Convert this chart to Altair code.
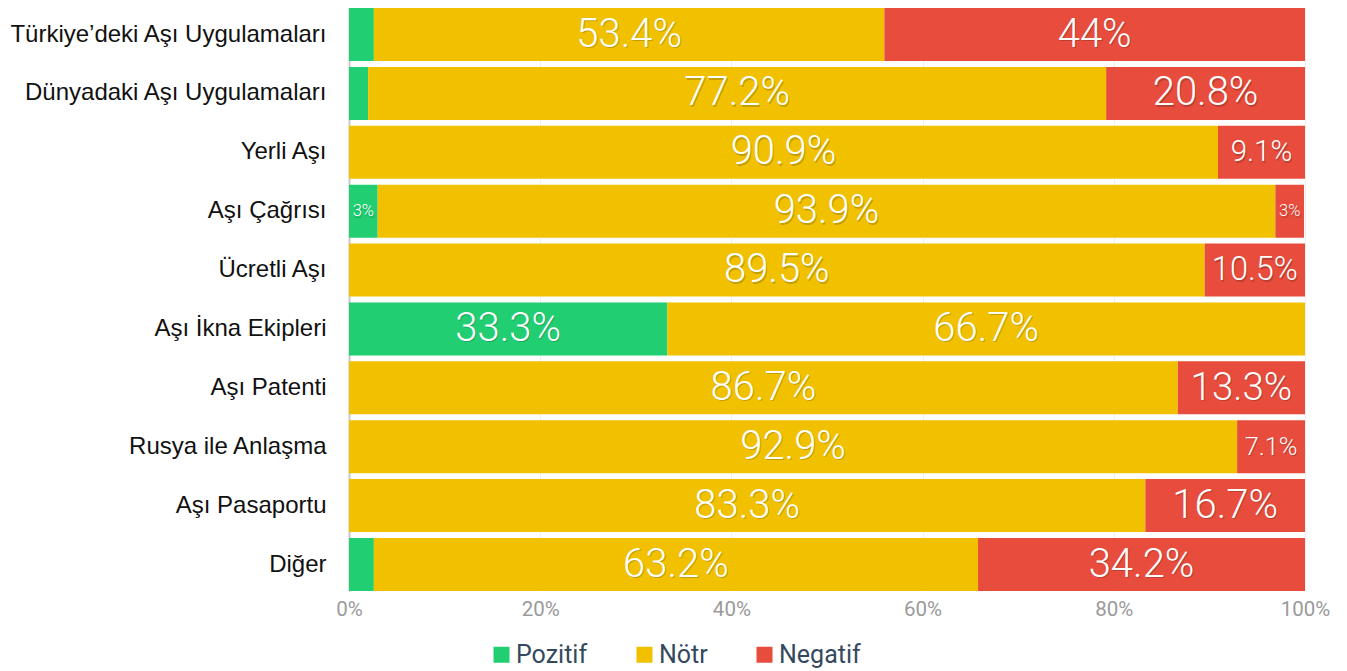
import altair as alt
import pandas as pd

categories = [
    "Türkiye’deki Aşı Uygulamaları",
    "Dünyadaki Aşı Uygulamaları",
    "Yerli Aşı",
    "Aşı Çağrısı",
    "Ücretli Aşı",
    "Aşı İkna Ekipleri",
    "Aşı Patenti",
    "Rusya ile Anlaşma",
    "Aşı Pasaportu",
    "Diğer",
]
pozitif = [2.6, 2.0, 0, 3, 0, 33.3, 0, 0, 0, 2.6]
notr = [53.4, 77.2, 90.9, 93.9, 89.5, 66.7, 86.7, 92.9, 83.3, 63.2]
negatif = [44, 20.8, 9.1, 3, 10.5, 0, 13.3, 7.1, 16.7, 34.2]
series = ["Pozitif", "Nötr", "Negatif"]
colors = ["#22CE72", "#F1C100", "#E74C3C"]
x_ticks = [0, 20, 40, 60, 80, 100]

rows = []
for i, c in enumerate(categories):
    for k, (s, vals) in enumerate(zip(series, [pozitif, notr, negatif])):
        rows.append({"category": c, "series": s, "value": vals[i], "order": k})
df = pd.DataFrame(rows)

base = alt.Chart(df).transform_stack(
    stack="value", groupby=["category"], as_=["x0", "x1"],
    sort=[alt.SortField("order", order="ascending")],
)

y_enc = alt.Y(
    "category:N", sort=categories, title=None,
    scale=alt.Scale(paddingInner=0.1, paddingOuter=0.0),
    axis=alt.Axis(
        labelFont="Liberation Sans", labelFontSize=24, labelColor="#111111",
        ticks=False, labelPadding=23, domainColor="#c8c8c8", domainWidth=2,
        minExtent=341, maxExtent=341, labelLimit=400,
    ),
)

bars = base.mark_bar().encode(
    x=alt.X(
        "x0:Q", title=None,
        scale=alt.Scale(domain=[0, 100], nice=False, zero=True),
        axis=alt.Axis(
            values=x_ticks, labelExpr="datum.value + '%'",
            labelFont="Roboto", labelFontSize=20.5, labelColor="#9a9a9a",
            labelPadding=8, labelFlush=False, domain=False, ticks=False,
            gridColor="#efefef", gridWidth=1,
        ),
    ),
    x2="x1:Q",
    y=y_enc,
    color=alt.Color(
        "series:N", sort=series,
        scale=alt.Scale(domain=series, range=colors),
        legend=alt.Legend(
            title=None, orient="none", direction="horizontal",
            legendX=140, legendY=634,
            symbolType="square", symbolSize=256, symbolStrokeWidth=0,
            labelFont="Roboto", labelFontSize=25, labelColor="#34495e",
            columnPadding=44, symbolOffset=0, labelOffset=2,
        ),
    ),
    order=alt.Order("order:Q"),
)

labels_src = base.transform_filter("datum.value >= 3").transform_calculate(
    mid="(datum.x0 + datum.x1) / 2",
    label="datum.value + '%'",
)

size_enc = alt.Size(
    "value:Q", scale=alt.Scale(domain=[3, 14], range=[16.5, 40], clamp=True), legend=None
)

shadow = labels_src.mark_text(
    font="Roboto", fontWeight=300, color="#000000", opacity=0.18, dx=1, dy=1.5, baseline="middle"
).encode(
    x="mid:Q",
    y=alt.Y("category:N", sort=categories),
    text="label:N",
    size=size_enc,
)

labels = labels_src.mark_text(
    font="Roboto", fontWeight=300, color="#ffffff", baseline="middle"
).encode(
    x="mid:Q",
    y=alt.Y("category:N", sort=categories),
    text="label:N",
    size=size_enc,
)

chart = alt.layer(bars, shadow, labels).properties(
    width=956, height=583, padding=0
).configure_view(stroke=None)

chart.save("out.html", embed_options={"renderer": "svg", "actions": False})
